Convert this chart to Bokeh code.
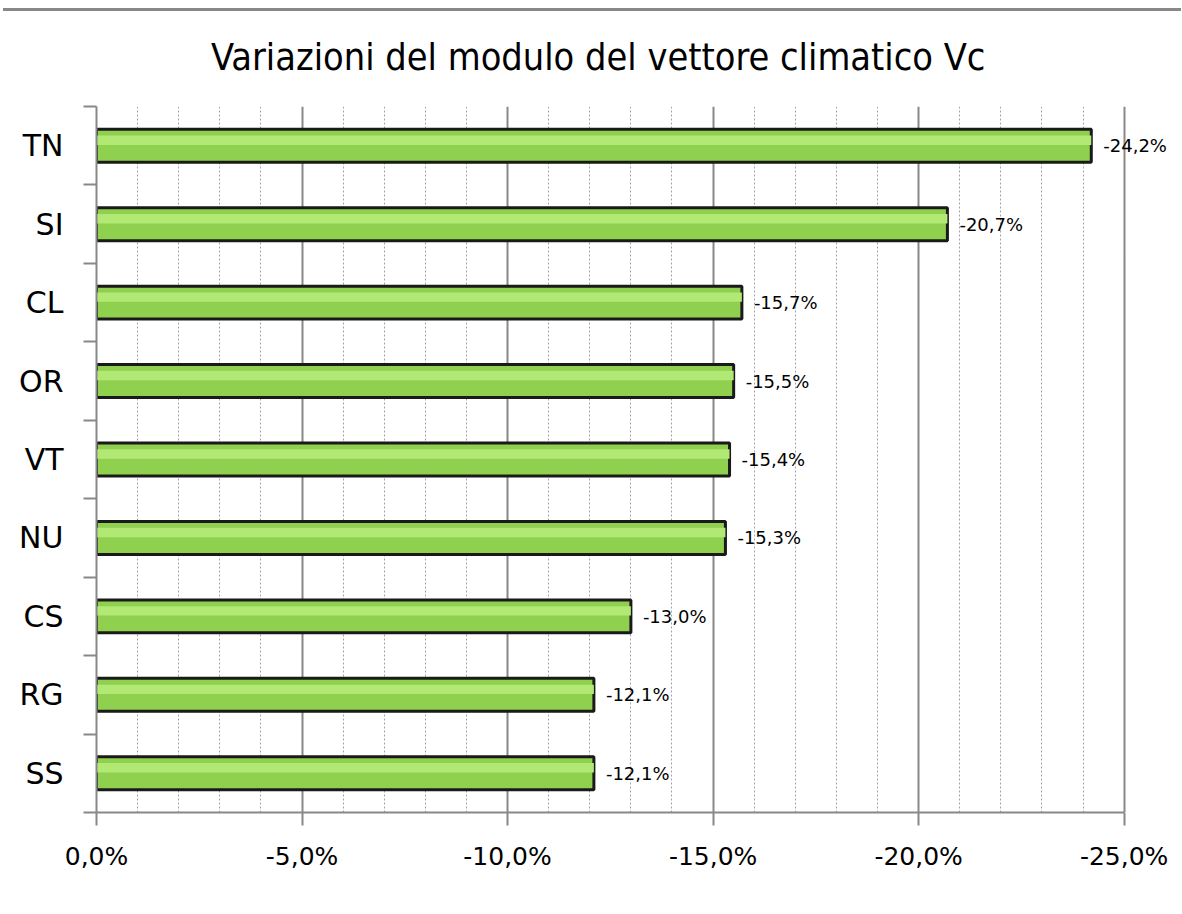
from bokeh.plotting import figure
from bokeh.models import Range1d, FixedTicker, ColumnDataSource, Div, LabelSet
from bokeh.layouts import column
from bokeh.core.properties import value
from bokeh.embed import file_html
from bokeh.resources import INLINE

# Data (bottom to top)
title_text = "Variazioni del modulo del vettore climatico Vc"
categories = ["SS", "RG", "CS", "NU", "VT", "OR", "CL", "SI", "TN"]
values = [-12.1, -12.1, -13.0, -15.3, -15.4, -15.5, -15.7, -20.7, -24.2]
value_labels = ["-12,1%", "-12,1%", "-13,0%", "-15,3%", "-15,4%", "-15,5%", "-15,7%", "-20,7%", "-24,2%"]
x_ticks = [0, -5, -10, -15, -20, -25]
x_tick_labels = ["0,0%", "-5,0%", "-10,0%", "-15,0%", "-20,0%", "-25,0%"]
x_minor = [-v for v in range(1, 25) if v % 5 != 0]

ypos = list(range(len(categories)))
src = ColumnDataSource(dict(y=ypos, v=values, lab=value_labels, zero=[0] * len(values),
                            yh=[y + 0.07 for y in ypos]))

W = 1173
TITLE_H = 78
p = figure(width=W, height=800, output_backend="svg", toolbar_location=None,
           x_range=Range1d(0, -26.2), y_range=Range1d(-0.5, len(categories) - 0.5),
           min_border_left=96, min_border_right=0, min_border_top=17, min_border_bottom=77)
p.outline_line_color = None
p.background_fill_color = "white"
p.border_fill_color = "white"

# x axis
xt = FixedTicker(ticks=x_ticks, minor_ticks=x_minor)
p.xaxis.ticker = xt
p.xaxis.bounds = (-25, 0)
p.xaxis.major_label_overrides = {t: l for t, l in zip(x_ticks, x_tick_labels)}
p.xaxis.major_label_text_font = "DejaVu Sans"
p.xaxis.major_label_text_font_size = "25px"
p.xaxis.major_label_text_color = "black"
p.xaxis.major_label_standoff = 16
p.xaxis.major_tick_out = 13
p.xaxis.major_tick_in = 0
p.xaxis.minor_tick_out = 0
p.xaxis.minor_tick_in = 0
p.xaxis.axis_line_color = "#888888"
p.xaxis.axis_line_width = 2
p.xaxis.major_tick_line_color = "#888888"
p.xaxis.major_tick_line_width = 2

# y axis
yt = FixedTicker(ticks=ypos, minor_ticks=[y - 0.5 for y in ypos] + [len(ypos) - 0.5])
p.yaxis.ticker = yt
p.yaxis.major_label_overrides = {y: c for y, c in zip(ypos, categories)}
p.yaxis.major_label_text_font = "DejaVu Sans"
p.yaxis.major_label_text_font_size = "30px"
p.yaxis.major_label_text_color = "black"
p.yaxis.major_label_standoff = 20
p.yaxis.major_tick_out = 0
p.yaxis.major_tick_in = 0
p.yaxis.minor_tick_out = 13
p.yaxis.minor_tick_in = 0
p.yaxis.minor_tick_line_color = "#888888"
p.yaxis.minor_tick_line_width = 2
p.yaxis.axis_line_color = "#888888"
p.yaxis.axis_line_width = 2

# grids
p.xgrid.ticker = xt
p.xgrid.grid_line_color = "#888888"
p.xgrid.grid_line_width = 2
p.xgrid.minor_grid_line_color = "#a8a0a8"
p.xgrid.minor_grid_line_width = 1
p.xgrid.minor_grid_line_dash = "2 2"
p.ygrid.grid_line_color = None

# bars
p.hbar(y="y", left="zero", right="v", height=0.42, source=src,
       fill_color="#8fd04e", line_color="#1a1a1a", line_width=3)
p.hbar(y="yh", left="zero", right="v", height=0.12, source=src,
       fill_color="#b2e874", line_color=None)

labels = LabelSet(x="v", y="y", text="lab", source=src, x_offset=12, y_offset=0,
                  text_font=value("DejaVu Sans"), text_font_size="18px",
                  text_baseline="middle", text_align="left", text_color="black")
p.add_layout(labels)

topline = Div(width=1178, height=11, margin=(0, 0, 0, 3),
              styles={"background": "linear-gradient(to bottom, white 8px, #888888 8px)"})
title = Div(width=W, height=TITLE_H, margin=0,
            text=('<div style="position:absolute; left:211px; top:28px; white-space:nowrap; '
                  'font-family:\'DejaVu Sans Condensed\'; font-size:37.6px; line-height:37.6px; '
                  'color:black;">' + title_text + '</div>'))
layout = column(topline, title, p, spacing=0)

open("out.html", "w").write(file_html(layout, INLINE))
